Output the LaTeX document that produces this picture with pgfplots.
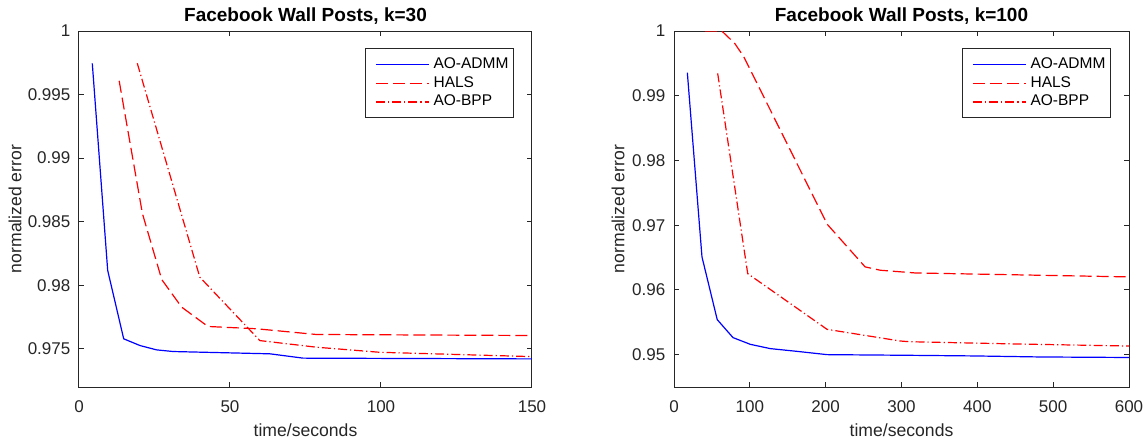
\documentclass[border=0pt]{standalone}
\usepackage{fontspec}
\setmainfont{Liberation Sans}
\usepackage{pgfplots}
\pgfplotsset{compat=1.18}
\definecolor{axgray}{RGB}{38,38,38}
\pgfplotsset{
  mystyle/.style={
    scale only axis,
    anchor=south west,
    height=178pt,
    axis line style={axgray, line width=0.5pt},
    tick style={axgray, line width=0.5pt},
    major tick length=2.5pt,
    tick align=inside,
    tick pos=both,
    every tick label/.append style={font=\fontsize{8.5}{10}\selectfont, text=axgray},
    xticklabel style={anchor=base, yshift=-12.5pt, /pgf/number format/assume math mode=true},
    yticklabel style={anchor=east, xshift=-0.8pt, /pgf/number format/.cd, fixed, precision=3, assume math mode=true},
    scaled y ticks=false,
    scaled x ticks=false,
    every axis x label/.style={at={(axis description cs:0.5,0)}, yshift=-21.5pt, anchor=center, font=\fontsize{8.8}{10}\selectfont, text=axgray},
    every axis title/.style={at={(axis description cs:0.5,1)}, anchor=base, yshift=4.6pt, font=\fontsize{9.5}{11}\selectfont\bfseries},
    legend style={at={(1,1)}, anchor=north east, xshift=-9pt, yshift=-8.5pt,
      draw=axgray, line width=0.5pt, fill=white,
      font=\fontsize{7.75}{9}\selectfont,
      inner xsep=0.5pt, inner ysep=2.5pt,
      row sep=-1.5pt},
    legend cell align=left,
    legend image code/.code={\path (0pt,0pt); \draw[##1] (4.3pt,0pt) -- (30.8pt,0pt);},
  },
}
\begin{document}
\begin{tikzpicture}
\useasboundingbox (0,0) rectangle (574pt,220pt);
\begin{axis}[mystyle,
  at={(39.5pt,26.5pt)}, width=226.5pt,
  xmin=0, xmax=150, ymin=0.972, ymax=1,
  xtick={0,50,100,150},
  ytick={0.975,0.98,0.985,0.99,0.995,1},
  title={Facebook Wall Posts, k=30},
  xlabel={time/seconds},
  ylabel={normalized error},
  every axis y label/.style={at={(axis description cs:0,0.5)}, xshift=-32pt, rotate=90, anchor=center, font=\fontsize{8.8}{10}\selectfont, text=axgray},
]
\addplot[color=blue, line width=0.6pt, solid] coordinates {(4.4,0.99746) (9.5,0.98117) (14.8,0.97579) (20.2,0.97526) (25.7,0.97492) (31.2,0.97479) (63.2,0.97461) (74.2,0.97427) (150,0.97421)};
\addlegendentry{AO-ADMM}
\addplot[color=red, line width=0.6pt, dash pattern=on 6pt off 2.5pt] coordinates {(13.3,0.99608) (21.0,0.98564) (27.4,0.98045) (34.0,0.97828) (42.7,0.97676) (58.8,0.97658) (78.6,0.97613) (150,0.97605)};
\addlegendentry{HALS}
\addplot[color=red, line width=0.6pt, dash pattern=on 4.5pt off 1.5pt on 0.6pt off 1.5pt] coordinates {(19.3,0.99746) (40.0,0.98064) (59.9,0.97565) (78.6,0.97513) (99.6,0.97473) (150,0.97439)};
\addlegendentry{AO-BPP}
\end{axis}
\begin{axis}[mystyle,
  at={(337pt,26.5pt)}, width=227.5pt,
  xmin=0, xmax=600, ymin=0.945, ymax=1,
  xtick={0,100,200,300,400,500,600},
  ytick={0.95,0.96,0.97,0.98,0.99,1},
  title={Facebook Wall Posts, k=100},
  xlabel={time/seconds},
  ylabel={normalized error},
  every axis y label/.style={at={(axis description cs:0,0.5)}, xshift=-28pt, rotate=90, anchor=center, font=\fontsize{8.8}{10}\selectfont, text=axgray},
]
\addplot[color=blue, line width=0.6pt, solid] coordinates {(17.6,0.99356) (36.9,0.9651) (57.0,0.95541) (77.8,0.95263) (100.7,0.95159) (127,0.95093) (162,0.95051) (201.8,0.95000) (307,0.9499) (395,0.9498) (483,0.94964) (600,0.94956)};
\addlegendentry{AO-ADMM}
\addplot[color=red, line width=0.6pt, dash pattern=on 6pt off 2.5pt] coordinates {(41,1.0) (63,1.0) (80,0.9981) (92,0.99603) (202,0.97015) (252,0.96356) (272,0.96304) (318,0.96262) (600,0.96201)};
\addlegendentry{HALS}
\addplot[color=red, line width=0.6pt, dash pattern=on 4.5pt off 1.5pt on 0.6pt off 1.5pt] coordinates {(57.6,0.99345) (97.2,0.96252) (201.8,0.95391) (298,0.95211) (310,0.95200) (450,0.95165) (600,0.95133)};
\addlegendentry{AO-BPP}
\end{axis}
\end{tikzpicture}
\end{document}
